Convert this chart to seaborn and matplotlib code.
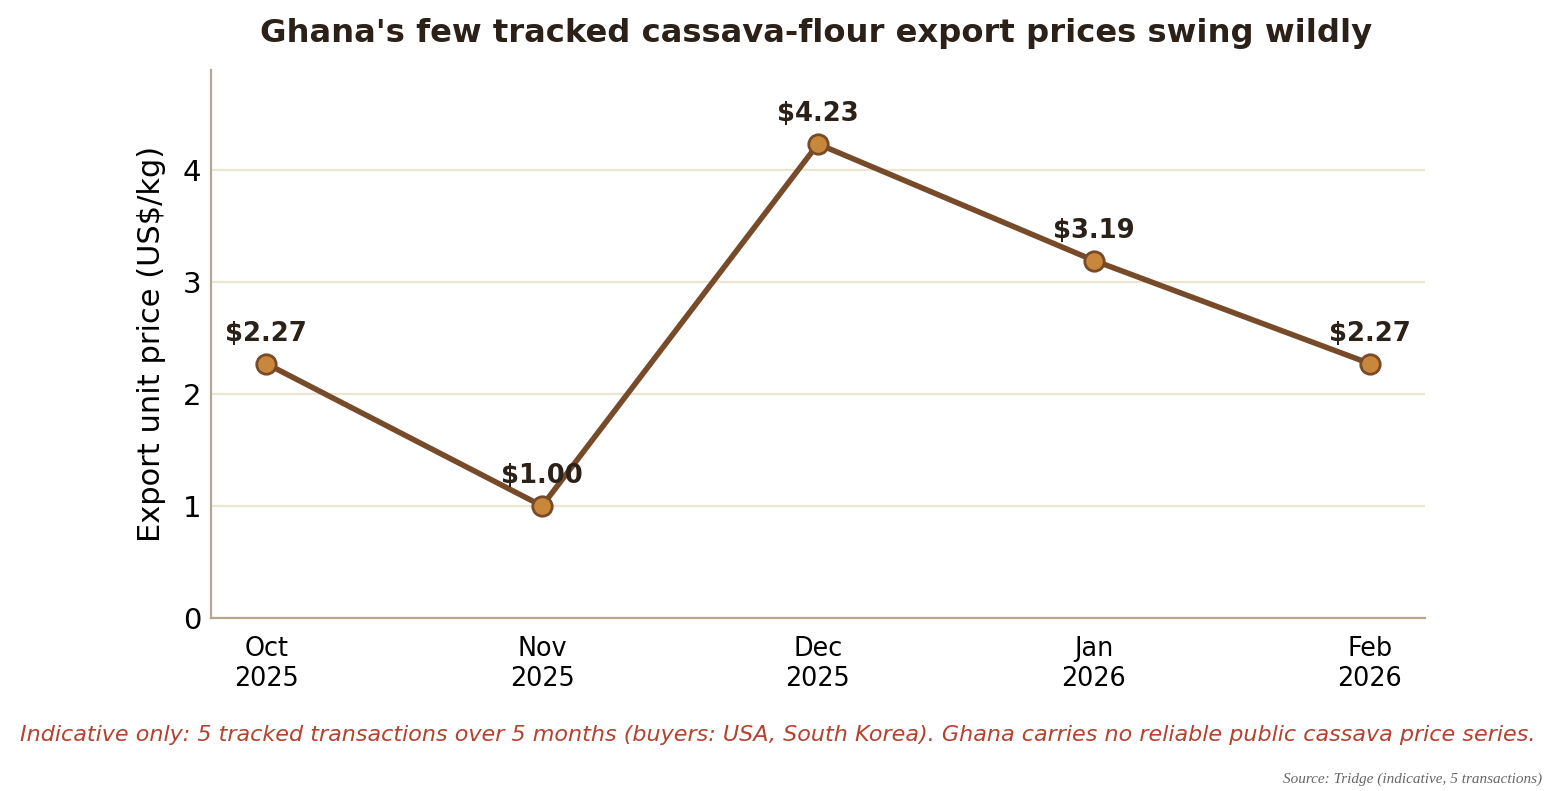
import matplotlib
matplotlib.use("Agg")
import matplotlib.pyplot as plt
import seaborn as sns
import pandas as pd

months = ["Oct\n2025", "Nov\n2025", "Dec\n2025", "Jan\n2026", "Feb\n2026"]
prices = [2.27, 1.00, 4.23, 3.19, 2.27]

sns.set_style("white")
plt.rcParams['font.family'] = ['DejaVu Sans']
fig = plt.figure(figsize=(7.775, 3.955), dpi=200)
ax = fig.add_axes([211/1555, 1-618/791, (1425-211)/1555, (618-70)/791])
df = pd.DataFrame({"x": range(len(months)), "y": prices})
sns.lineplot(data=df, x="x", y="y", ax=ax, color="#774B2A", lw=2, marker="o",
             markersize=7, markerfacecolor="#C8873A", markeredgecolor="#774B2A", markeredgewidth=1)
for i, p in enumerate(prices):
    ax.annotate(f"${p:.2f}", (i, p), xytext=(0, 6), textcoords="offset points",
                ha="center", va="bottom", fontsize=9.3, fontweight="bold", color="#2B2118")
ax.set_xlim(-0.2, 4.2)
ax.set_ylim(0, 4.89)
ax.set_yticks([0, 1, 2, 3, 4])
ax.set_xticks(range(len(months)))
ax.set_xticklabels(months, fontsize=9.2, color="black")
ax.tick_params(axis='y', labelsize=10.5, length=0, labelcolor="black")
ax.tick_params(axis='x', length=3, color="#2B2118")
ax.yaxis.grid(True, color="#EDE5CF", lw=0.8)
ax.set_axisbelow(True)
for s in ["top", "right"]:
    ax.spines[s].set_visible(False)
for s in ["left", "bottom"]:
    ax.spines[s].set_color("#B8A68E")
ax.set_xlabel("")
ax.set_ylabel("Export unit price (US$/kg)", fontsize=11, color="black", labelpad=6)
fig.text(0.525, 0.958, "Ghana's few tracked cassava-flour export prices swing wildly",
         ha="center", va="center", fontsize=11.6, fontweight="bold", color="#2B2118")
fig.text(0.5, 0.071, "Indicative only: 5 tracked transactions over 5 months (buyers: USA, South Korea). Ghana carries no reliable public cassava price series.",
         ha="center", va="center", fontsize=8.0, style="italic", color="#B5412F")
fig.text(0.992, 0.015, "Source: Tridge (indicative, 5 transactions)", ha="right", va="center",
         fontsize=5.5, style="italic", family="Liberation Serif", color="#666666")
fig.savefig("out.png", dpi=200)
